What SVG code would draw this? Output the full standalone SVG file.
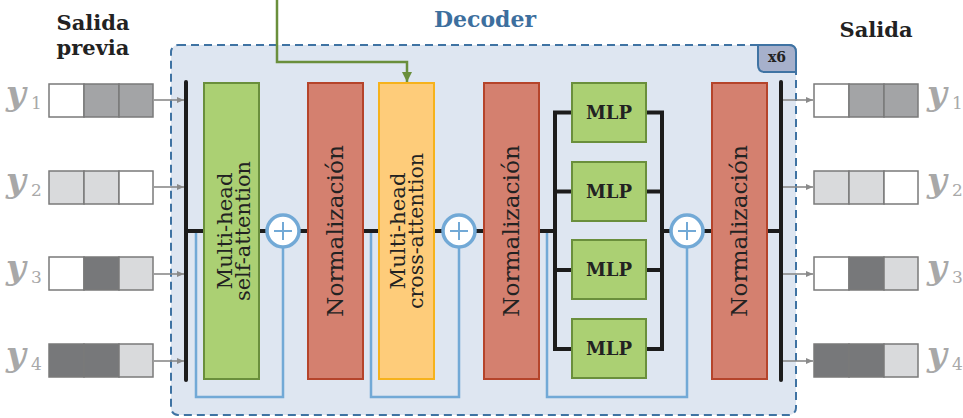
<svg xmlns="http://www.w3.org/2000/svg" width="963" height="418" viewBox="0 0 963 418">
<style>
.t{font-family:"DejaVu Serif","Liberation Serif",serif;fill:#222}
.b{font-weight:bold}
.lbl{font-family:"DejaVu Serif","Liberation Serif",serif;font-weight:bold;font-style:italic;fill:#a8a8a8;font-size:34px}
.sub{font-family:"DejaVu Serif","Liberation Serif",serif;fill:#a8a8a8;font-size:17px}
.cell{stroke:#7a7a7a;stroke-width:1.5}
.w{fill:#ffffff}.m{fill:#a3a4a6}.l{fill:#d9dadc}.d{fill:#77787a}
.green{fill:#abd073;stroke:#6a8f3c;stroke-width:2}
.norm{fill:#d4806f;stroke:#b5442b;stroke-width:2}
.cross{fill:#fecc7a;stroke:#f6b21c;stroke-width:2}
.blk{stroke:#1c1c1c;stroke-width:4;fill:none}
.res{stroke:#72a9d6;stroke-width:2.5;fill:none}
.plus{fill:#ffffff;stroke:#72a9d6;stroke-width:3.5}
.arr{stroke:#8a8a8a;stroke-width:1.6;fill:none}
</style>
<defs>
<marker id="ga" markerWidth="8" markerHeight="8" refX="7" refY="4" orient="auto" markerUnits="userSpaceOnUse"><path d="M0,1 L7,4 L0,7 Z" fill="#8a8a8a"/></marker>
<marker id="gr" markerWidth="12" markerHeight="12" refX="10" refY="6" orient="auto" markerUnits="userSpaceOnUse"><path d="M0,1 L10,6 L0,11 Z" fill="#6a8f3c"/></marker>
</defs>

<!-- Decoder container -->
<g id="decoder">
<rect x="171" y="45" width="625" height="370" rx="7" fill="#dee6f1" stroke="#3f73a3" stroke-width="2" stroke-dasharray="8,5"/>
<path d="M758,45 L789,45 Q796,45 796,52 L796,72 L765,72 Q758,72 758,65 Z" fill="#a6b0cb" stroke="#3f73a3" stroke-width="2"/>
<text x="777" y="62" class="t b" font-size="14" text-anchor="middle">x6</text>
<text x="485" y="27" class="b" font-family="DejaVu Serif, Liberation Serif, serif" font-size="22" fill="#3d6f9e" text-anchor="middle">Decoder</text>
</g>

<!-- Titles -->
<text x="93" y="30" class="t b" font-size="21" text-anchor="middle">Salida</text>
<text x="93" y="55" class="t b" font-size="21" text-anchor="middle">previa</text>
<text x="876" y="37" class="t b" font-size="21" text-anchor="middle">Salida</text>

<!-- connectors -->
<g id="connectors">
<path d="M277,0 V62 H407 V82" stroke="#6a8f3c" stroke-width="2.5" fill="none" marker-end="url(#gr)"/>
<line x1="154" y1="100" x2="184" y2="100" class="arr" marker-end="url(#ga)"/>
<line x1="154" y1="187" x2="184" y2="187" class="arr" marker-end="url(#ga)"/>
<line x1="154" y1="274" x2="184" y2="274" class="arr" marker-end="url(#ga)"/>
<line x1="154" y1="361" x2="184" y2="361" class="arr" marker-end="url(#ga)"/>
<line x1="783" y1="100" x2="813" y2="100" class="arr" marker-end="url(#ga)"/>
<line x1="783" y1="187" x2="813" y2="187" class="arr" marker-end="url(#ga)"/>
<line x1="783" y1="274" x2="813" y2="274" class="arr" marker-end="url(#ga)"/>
<line x1="783" y1="361" x2="813" y2="361" class="arr" marker-end="url(#ga)"/>
<line x1="186" y1="82" x2="186" y2="380" class="blk" stroke-linecap="round"/>
<line x1="781" y1="82" x2="781" y2="380" class="blk" stroke-linecap="round"/>
<path d="M186,231 H204 M259,231 H268 M299,231 H308 M363,231 H379 M434,231 H444 M475,231 H484 M539,231 H555 M662,231 H672 M703,231 H712 M767,231 H781" class="blk"/>
<path d="M555,112.5 V349 M553,112.5 H572 M553,191.5 H572 M553,270 H572 M553,349 H572" class="blk"/>
<path d="M662,112.5 V349 M646,112.5 H664 M646,191.5 H664 M646,270 H664 M646,349 H664" class="blk"/>
<path d="M196,233 V397 H283 V248" class="res"/>
<path d="M371,233 V397 H459 V248" class="res"/>
<path d="M547,233 V397 H687 V248" class="res"/>
</g>

<!-- input tokens -->
<g id="inputs">
<rect x="49" y="84" width="35" height="33" class="cell w"/><rect x="84" y="84" width="35" height="33" class="cell m"/><rect x="119" y="84" width="34" height="33" class="cell m"/>
<rect x="49" y="171" width="35" height="33" class="cell l"/><rect x="84" y="171" width="35" height="33" class="cell l"/><rect x="119" y="171" width="34" height="33" class="cell w"/>
<rect x="49" y="257" width="35" height="33" class="cell w"/><rect x="84" y="257" width="35" height="33" class="cell d"/><rect x="119" y="257" width="34" height="33" class="cell l"/>
<rect x="49" y="344" width="35" height="33" class="cell d"/><rect x="84" y="344" width="35" height="33" class="cell d"/><rect x="119" y="344" width="34" height="33" class="cell l"/>
<text x="6" y="105" class="lbl">y</text><text x="31" y="109" class="sub">1</text>
<text x="6" y="192" class="lbl">y</text><text x="31" y="196" class="sub">2</text>
<text x="6" y="279" class="lbl">y</text><text x="31" y="283" class="sub">3</text>
<text x="6" y="366" class="lbl">y</text><text x="31" y="370" class="sub">4</text>
</g>

<!-- output tokens -->
<g id="outputs">
<rect x="814" y="84" width="35" height="33" class="cell w"/><rect x="849" y="84" width="35" height="33" class="cell m"/><rect x="884" y="84" width="34" height="33" class="cell m"/>
<rect x="814" y="171" width="35" height="33" class="cell l"/><rect x="849" y="171" width="35" height="33" class="cell l"/><rect x="884" y="171" width="34" height="33" class="cell w"/>
<rect x="814" y="257" width="35" height="33" class="cell w"/><rect x="849" y="257" width="35" height="33" class="cell d"/><rect x="884" y="257" width="34" height="33" class="cell l"/>
<rect x="814" y="344" width="35" height="33" class="cell d"/><rect x="849" y="344" width="35" height="33" class="cell d"/><rect x="884" y="344" width="34" height="33" class="cell l"/>
<text x="927" y="105" class="lbl">y</text><text x="952" y="109" class="sub">1</text>
<text x="927" y="192" class="lbl">y</text><text x="952" y="196" class="sub">2</text>
<text x="927" y="279" class="lbl">y</text><text x="952" y="283" class="sub">3</text>
<text x="927" y="366" class="lbl">y</text><text x="952" y="370" class="sub">4</text>
</g>

<!-- self attention -->
<g id="self-attention">
<rect x="204" y="83" width="55" height="296" class="green"/>
<text transform="translate(232,231) rotate(-90)" class="t" font-size="21" text-anchor="middle" textLength="117" lengthAdjust="spacingAndGlyphs">Multi-head</text>
<text transform="translate(249.5,231) rotate(-90)" class="t" font-size="21" text-anchor="middle" textLength="140" lengthAdjust="spacingAndGlyphs">self-attention</text>
</g>
<g id="add1">
<circle cx="283" cy="231" r="16" class="plus"/>
<path d="M274,231 H292 M283,222 V240" stroke="#72a9d6" stroke-width="2"/>
</g>
<g id="norm1">
<rect x="308" y="83" width="55" height="296" class="norm"/>
<text transform="translate(343,231) rotate(-90)" class="t" font-size="22" text-anchor="middle" textLength="172" lengthAdjust="spacingAndGlyphs">Normalización</text>
</g>
<g id="cross-attention">
<rect x="379" y="83" width="55" height="296" class="cross"/>
<text transform="translate(405,231) rotate(-90)" class="t" font-size="21" text-anchor="middle" textLength="117" lengthAdjust="spacingAndGlyphs">Multi-head</text>
<text transform="translate(422.5,231) rotate(-90)" class="t" font-size="21" text-anchor="middle" textLength="156" lengthAdjust="spacingAndGlyphs">cross-attention</text>
</g>
<g id="add2">
<circle cx="459" cy="231" r="16" class="plus"/>
<path d="M450,231 H468 M459,222 V240" stroke="#72a9d6" stroke-width="2"/>
</g>
<g id="norm2">
<rect x="484" y="83" width="55" height="296" class="norm"/>
<text transform="translate(519,231) rotate(-90)" class="t" font-size="22" text-anchor="middle" textLength="172" lengthAdjust="spacingAndGlyphs">Normalización</text>
</g>
<g id="mlp1"><rect x="572" y="83" width="74" height="59" class="green"/><text x="609" y="119" class="t b" font-size="18" text-anchor="middle">MLP</text></g>
<g id="mlp2"><rect x="572" y="162" width="74" height="59" class="green"/><text x="609" y="198" class="t b" font-size="18" text-anchor="middle">MLP</text></g>
<g id="mlp3"><rect x="572" y="240" width="74" height="59" class="green"/><text x="609" y="276" class="t b" font-size="18" text-anchor="middle">MLP</text></g>
<g id="mlp4"><rect x="572" y="319" width="74" height="59" class="green"/><text x="609" y="355" class="t b" font-size="18" text-anchor="middle">MLP</text></g>
<g id="add3">
<circle cx="687" cy="231" r="16" class="plus"/>
<path d="M678,231 H696 M687,222 V240" stroke="#72a9d6" stroke-width="2"/>
</g>
<g id="norm3">
<rect x="712" y="83" width="55" height="296" class="norm"/>
<text transform="translate(747,231) rotate(-90)" class="t" font-size="22" text-anchor="middle" textLength="172" lengthAdjust="spacingAndGlyphs">Normalización</text>
</g>
</svg>
